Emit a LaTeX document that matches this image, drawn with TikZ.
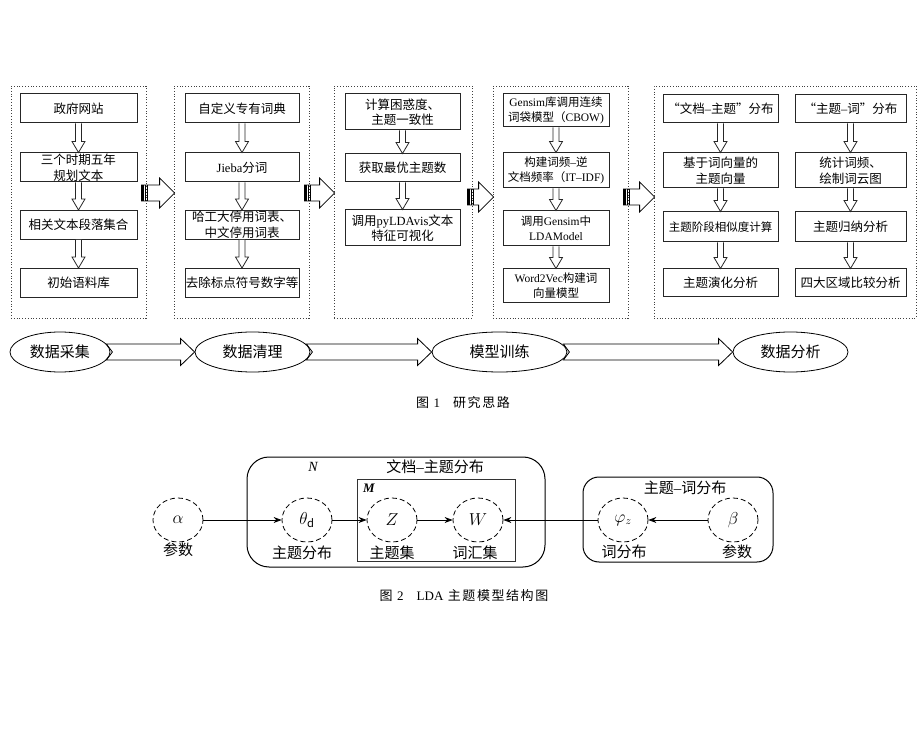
\documentclass[tikz,border=0pt]{standalone}
\usepackage{fontspec}
\setmainfont{Noto Sans CJK SC}
\newfontfamily\lat{Liberation Serif}
\usetikzlibrary{calc,arrows.meta,shapes.geometric}
\newcommand\dnarr[2]{\draw[harr] ($(#1.south)+(-3,0)$) -- ($(#2.north)+(-3,-11)$) -- ($(#2.north)+(-6.5,-11)$) -- (#2.north) -- ($(#2.north)+(6.5,-11)$) -- ($(#2.north)+(3,-11)$) -- ($(#1.south)+(3,0)$);}
\newcommand\fatarr[3]{%
 \coordinate (fy) at (0,#3);
 \coordinate (fa) at ($(#1.east |- fy)+(-5,0)$);
 \coordinate (fb) at ($(#2.west |- fy)+(1,0)$);
 \draw[line width=0.8pt] ($(fa)+(0,-8)$) -- ($(fb)+(-15,-8)$) -- ($(fb)+(-15,-15)$) -- (fb) -- ($(fb)+(-15,15)$) -- ($(fb)+(-15,8)$) -- ($(fa)+(0,8)$) -- cycle;
 \fill ($(fa)+(0,-8)$) rectangle ($(fa)+(2.5,8)$);
 \draw[line width=0.6pt] ($(fa)+(4,-8)$) -- ($(fa)+(4,8)$);
 \draw[line width=0.6pt] ($(fa)+(5.8,-8)$) -- ($(fa)+(5.8,8)$);}
\newcommand\hrarr[2]{%
 \coordinate (ha) at ($(#1.east)+(-4,0)$);
 \coordinate (hb) at (#2.west);
 \draw[line width=0.8pt] ($(ha)+(0,-8)$) -- ($(hb)+(-14,-8)$) -- ($(hb)+(-14,-13.5)$) -- (hb) -- ($(hb)+(-14,13.5)$) -- ($(hb)+(-14,8)$) -- ($(ha)+(0,8)$) -- ($(ha)+(6,0)$) -- cycle;}
\begin{document}
\begin{tikzpicture}[x=1pt,y=-1pt,
 col/.style={draw=black!75, dotted, line width=0.8pt, inner sep=0pt},
 bx/.style={draw=black!85, line width=1pt, fill=white, align=center, inner sep=0pt, font=\fontsize{12.5}{15.5}\selectfont},
 sbx/.style={bx, font=\fontsize{11.5}{15}\selectfont},
 harr/.style={draw=black!85, line width=0.8pt, fill=white},
 ell/.style={draw, line width=0.8pt, ellipse, inner sep=0pt, minimum height=40pt, font=\fontsize{15}{18}\selectfont},
 dell/.style={draw, dash pattern=on 5pt off 3pt, line width=0.8pt, ellipse, minimum width=50pt, minimum height=44pt, inner sep=0pt, font=\fontsize{16}{18}\selectfont},
 lab/.style={font=\fontsize{15}{18}\selectfont, inner sep=0pt},
 captxt/.style={font=\fontsize{13}{15}\selectfont\addfontfeature{LetterSpace=12}, inner sep=0pt},
 con/.style={-{Stealth[length=8pt,width=6pt]}, line width=0.8pt},
 plate/.style={draw, line width=1pt, inner sep=0pt}
]
\useasboundingbox (0,0) rectangle (922,730);
% ---------- Figure 1 columns
\node[col, minimum width=135pt, minimum height=232pt] (c1) at (78.5,202) {};
\node[col, minimum width=135pt, minimum height=232pt] (c2) at (241.5,202) {};
\node[col, minimum width=138pt, minimum height=232pt] (c3) at (403,202) {};
\node[col, minimum width=135pt, minimum height=232pt] (c4) at (560.5,202) {};
\node[col, minimum width=262pt, minimum height=232pt] (c5) at (785,202) {};
% column 1
\node[bx, minimum width=117pt, minimum height=29pt] (a1) at (78.5,108.5) {政府网站};
\node[bx, minimum width=117pt, minimum height=29pt] (a2) at (78.5,167.5) {三个时期五年\\规划文本};
\node[bx, minimum width=117pt, minimum height=29pt] (a3) at (78.5,225) {相关文本段落集合};
\node[bx, minimum width=117pt, minimum height=29pt] (a4) at (78.5,283) {初始语料库};
% column 2
\node[bx, minimum width=114pt, minimum height=29pt] (b1) at (242,108.5) {自定义专有词典};
\node[bx, minimum width=114pt, minimum height=29pt] (b2) at (242,167.5) {{\lat Jieba}分词};
\node[bx, minimum width=114pt, minimum height=29pt] (b3) at (242,225) {哈工大停用词表、\\中文停用词表};
\node[bx, minimum width=114pt, minimum height=29pt] (b4) at (242,283) {去除标点符号数字等};
% column 3
\node[bx, minimum width=115pt, minimum height=36pt] (d1) at (402.5,112) {计算困惑度、\\主题一致性};
\node[bx, minimum width=115pt, minimum height=28pt] (d2) at (402.5,168) {获取最优主题数};
\node[bx, minimum width=115pt, minimum height=36pt] (d3) at (402.5,228) {调用{\lat pyLDAvis}文本\\特征可视化};
% column 4
\node[sbx, minimum width=106pt, minimum height=33pt] (e1) at (556,110.5) {{\lat Gensim}库调用连续\\词袋模型（{\lat CBOW)}};
\node[sbx, minimum width=106pt, minimum height=35pt] (e2) at (556,170.5) {构建词频{\lat –}逆\\文档频率（{\lat IT–IDF)}};
\node[sbx, minimum width=106pt, minimum height=35pt] (e3) at (556,228.5) {调用{\lat Gensim}中\\{\lat LDAModel}};
\node[sbx, minimum width=106pt, minimum height=34pt] (e4) at (556,286) {{\lat Word2Vec}构建词\\向量模型};
% column 5
\node[bx, minimum width=115pt, minimum height=28pt] (f1) at (720.5,109) {“文档{\lat –}主题”分布};
\node[bx, minimum width=115pt, minimum height=35pt] (f2) at (720.5,170.5) {基于词向量的\\主题向量};
\node[sbx, minimum width=115pt, minimum height=30pt] (f3) at (720.5,227) {主题阶段相似度计算};
\node[bx, minimum width=115pt, minimum height=28pt] (f4) at (720.5,283) {主题演化分析};
\node[bx, minimum width=111pt, minimum height=28pt] (g1) at (850.5,109) {“主题{\lat –}词”分布};
\node[bx, minimum width=111pt, minimum height=35pt] (g2) at (850.5,170.5) {统计词频、\\绘制词云图};
\node[bx, minimum width=111pt, minimum height=30pt] (g3) at (850.5,227) {主题归纳分析};
\node[bx, minimum width=111pt, minimum height=28pt] (g4) at (850.5,283) {四大区域比较分析};
% small hollow arrows
\dnarr{a1}{a2}\dnarr{a2}{a3}\dnarr{a3}{a4}
\dnarr{b1}{b2}\dnarr{b2}{b3}\dnarr{b3}{b4}
\dnarr{d1}{d2}\dnarr{d2}{d3}
\dnarr{e1}{e2}\dnarr{e2}{e3}\dnarr{e3}{e4}
\dnarr{f1}{f2}\dnarr{f2}{f3}\dnarr{f3}{f4}
\dnarr{g1}{g2}\dnarr{g2}{g3}\dnarr{g3}{g4}
% fat arrows between columns
\fatarr{c1}{c2}{193}
\fatarr{c2}{c3}{193}
\fatarr{c3}{c4}{197}
\fatarr{c4}{c5}{197}
% bottom flow
\node[ell, minimum width=100pt] (s1) at (60,352) {数据采集};
\node[ell, minimum width=115pt] (s2) at (252.5,352) {数据清理};
\node[ell, minimum width=135pt] (s3) at (499.5,352) {模型训练};
\node[ell, minimum width=115pt] (s4) at (790.5,352) {数据分析};
\hrarr{s1}{s2}
\hrarr{s2}{s3}
\hrarr{s3}{s4}
\node[captxt] (cap1) at (463,403) {图 {\lat 1}\quad 研究思路};
% ---------- Figure 2
\node[plate, rounded corners=22pt, minimum width=298pt, minimum height=110pt] (N) at (396,512) {};
\node[plate, draw=black!80, minimum width=158pt, minimum height=82pt] (M) at (436,520) {};
\node[plate, rounded corners=16pt, minimum width=190pt, minimum height=85pt] (R) at (678,519.5) {};
\node[lab, font=\fontsize{14}{16}\lat\itshape] (Nl) at (313,467) {N};
\node[lab] (Nt) at (435,467) {文档{\lat –}主题分布};
\node[lab, font=\fontsize{13}{16}\lat\itshape\bfseries] (Ml) at (369,488) {M};
\node[lab] (Rt) at (685,488) {主题{\lat –}词分布};
\node[dell] (al) at (178,520) {$\alpha$};
\node[dell] (th) at (307,520) {$\theta_{\mathrm{d}}$};
\node[dell] (Z) at (392,520) {$Z$};
\node[dell] (W) at (478,520) {$W$};
\node[dell] (ph) at (623,520) {$\varphi_{z}$};
\node[dell] (be) at (733,520) {$\beta$};
\node[lab] (l1) at (178,550) {参数};
\node[lab] (l2) at (302,553) {主题分布};
\node[lab] (l3) at (392,553) {主题集};
\node[lab] (l4) at (475,553) {词汇集};
\node[lab] (l5) at (624,552) {词分布};
\node[lab] (l6) at (737,552) {参数};
\draw[con] (al) -- (th);
\draw[con] (th) -- (Z);
\draw[con] (Z) -- (W);
\draw[con] (ph) -- (W);
\draw[con] (be) -- (ph);
\node[captxt] (cap2) at (464,596) {图 {\lat 2}\quad {\lat LDA} 主题模型结构图};
\end{tikzpicture}
\end{document}
